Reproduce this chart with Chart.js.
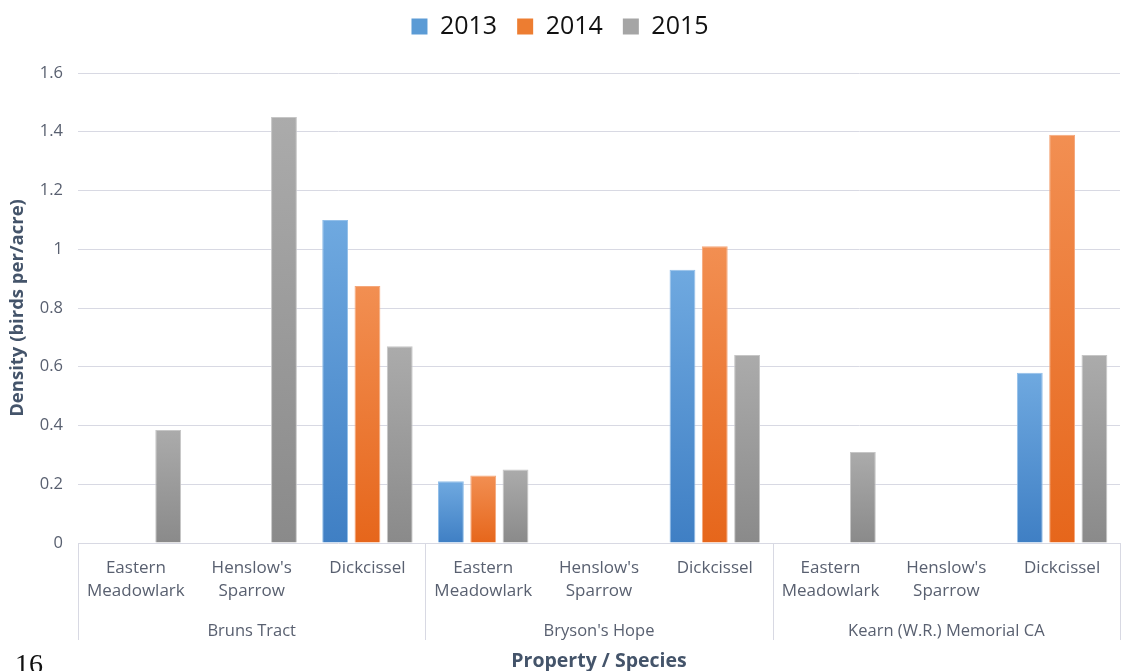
<!DOCTYPE html>
<html>
<head>
<meta charset="utf-8">
<script src="https://cdn.jsdelivr.net/npm/chart.js@4.4.1/dist/chart.umd.min.js"></script>
<style>
  html, body { margin: 0; padding: 0; background: #ffffff; }
  #wrap { position: relative; width: 1125px; height: 671px; overflow: hidden; }
  #pageNum { position: absolute; left: 15px; top: 650px; font-family: "Liberation Serif", serif; font-size: 28px; color: #111; line-height: 1; }
</style>
</head>
<body>
<div id="wrap">
  <canvas id="c" width="1125" height="671"></canvas>
  <div id="pageNum">16</div>
</div>
<script>
// ---- data ----
const properties = ["Bruns Tract", "Bryson's Hope", "Kearn (W.R.) Memorial CA"];
const species = [["Eastern", "Meadowlark"], ["Henslow's", "Sparrow"], ["Dickcissel"]];
const categories = [
  species[0], species[1], species[2],
  species[0], species[1], species[2],
  species[0], species[1], species[2]
];
const years = ["2013", "2014", "2015"];
const values2013 = [null, null, 1.10, 0.21, null, 0.93, null, null, 0.58];
const values2014 = [null, null, 0.875, 0.23, null, 1.01, null, null, 1.39];
const values2015 = [0.385, 1.45, 0.67, 0.25, null, 0.64, 0.31, null, 0.64];
const yTickValues = [0, 0.2, 0.4, 0.6, 0.8, 1, 1.2, 1.4, 1.6];
const yTickLabels = ["0", "0.2", "0.4", "0.6", "0.8", "1", "1.2", "1.4", "1.6"];
const yTitle = "Density (birds per/acre)";
const xTitle = "Property / Species";

// ---- styles ----
const palette = [
  { top: "#6fa9e0", bottom: "#3f7fc4", solid: "#5b9bd5", border: "#93bfe9" },
  { top: "#f28f52", bottom: "#e6661b", solid: "#ed7d31", border: "#f5a77a" },
  { top: "#ababab", bottom: "#8a8a8a", solid: "#a5a5a5", border: "#c6c6c6" }
];
const tickColor = "#596070";
const titleColor = "#44546a";
const gridColor = "#d8d9e3";

function barGradient(c, p) {
  if (c.type !== "data") return p.solid;
  const chart = c.chart;
  const v = c.raw;
  if (!chart.chartArea || v == null) return p.solid;
  const y = chart.scales.y;
  const y0 = y.getPixelForValue(0);
  const y1 = y.getPixelForValue(v);
  if (!isFinite(y0) || !isFinite(y1) || y0 === y1) return p.solid;
  const g = chart.ctx.createLinearGradient(0, y1, 0, y0);
  g.addColorStop(0, p.top);
  g.addColorStop(1, p.bottom);
  return g;
}

const seriesValues = [values2013, values2014, values2015];
const datasets = years.map((yr, i) => ({
  label: yr,
  data: seriesValues[i],
  backgroundColor: (c) => barGradient(c, palette[i]),
  borderColor: palette[i].border,
  borderWidth: 1,
  categoryPercentage: 0.837,
  barPercentage: 0.80
}));

const legendSpacer = {
  id: "legendSpacer",
  afterInit(chart) {
    const lg = chart.legend;
    if (lg && !lg._patched) {
      const orig = lg.fit;
      lg.fit = function () { orig.call(this); this.height = 79; };
      lg._patched = true;
    }
  }
};

const groupSeparators = {
  id: "groupSeparators",
  afterDraw(chart) {
    const x2 = chart.scales.x2;
    const x = chart.scales.x;
    const ctx = chart.ctx;
    ctx.save();
    ctx.strokeStyle = gridColor;
    ctx.lineWidth = 1;
    for (let i = 0; i <= properties.length; i++) {
      const px = Math.round(x2.getPixelForValue(i - 0.5)) + 0.5;
      ctx.beginPath();
      ctx.moveTo(px, x.top);
      ctx.lineTo(px, x2.bottom - 31);
      ctx.stroke();
    }
    ctx.restore();
  }
};

new Chart(document.getElementById("c"), {
  type: "bar",
  data: { labels: categories, datasets: datasets },
  plugins: [legendSpacer, groupSeparators],
  options: {
    responsive: false,
    animation: false,
    layout: { padding: { top: -6, left: 0, right: 5, bottom: 0 } },
    plugins: {
      legend: {
        position: "top",
        labels: {
          font: { family: "Open Sans", size: 25 },
          color: "#111111",
          boxWidth: 16,
          boxHeight: 16,
          padding: 20,
          generateLabels(chart) {
            return chart.data.datasets.map((ds, i) => ({
              text: ds.label,
              fillStyle: palette[i].solid,
              strokeStyle: palette[i].solid,
              lineWidth: 0,
              fontColor: "#111111",
              datasetIndex: i,
              hidden: false
            }));
          }
        }
      },
      tooltip: { enabled: false }
    },
    scales: {
      y: {
        min: 0,
        max: 1.6,
        afterBuildTicks(s) { s.ticks = yTickValues.map(v => ({ value: v })); },
        afterFit(s) { s.width = 78; },
        ticks: {
          font: { family: "Open Sans", size: 16.5 },
          color: tickColor,
          padding: 15,
          callback(v) { const k = yTickValues.indexOf(Math.round(v * 10) / 10); return k >= 0 ? yTickLabels[k] : ""; }
        },
        grid: { color: gridColor, drawTicks: false, lineWidth: 1 },
        border: { display: false },
        title: {
          display: true,
          text: yTitle,
          font: { family: "Open Sans", size: 18.5, weight: "bold" },
          color: titleColor,
          padding: { top: 7, bottom: 0 }
        }
      },
      x: {
        type: "category",
        weight: 0,
        afterFit(s) { s.height = 62; },
        ticks: {
          font: { family: "Open Sans", size: 17, lineHeight: 1.35 },
          color: tickColor,
          padding: 14,
          maxRotation: 0,
          autoSkip: false
        },
        grid: { display: false, drawTicks: false },
        border: { display: false }
      },
      x2: {
        type: "category",
        position: "bottom",
        weight: 1,
        labels: properties,
        offset: true,
        afterFit(s) { s.height = 66; },
        ticks: {
          font: { family: "Open Sans", size: 16.5 },
          color: tickColor,
          padding: 16,
          maxRotation: 0,
          autoSkip: false
        },
        grid: { display: false, drawTicks: false },
        border: { display: false },
        title: {
          display: true,
          text: xTitle,
          font: { family: "Open Sans", size: 19.5, weight: "bold" },
          color: titleColor,
          padding: { top: 0, bottom: -2 }
        }
      }
    }
  }
});
</script>
</body>
</html>
